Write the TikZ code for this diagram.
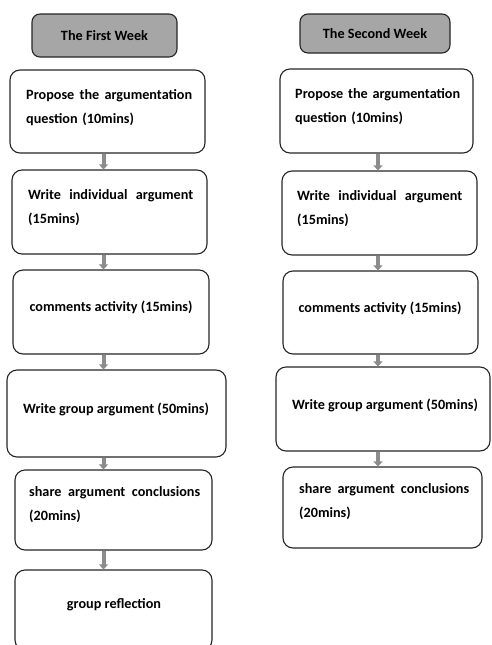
\documentclass[tikz,border=0pt]{standalone}
\usepackage{fontspec}
\setmainfont{Carlito}
\usetikzlibrary{arrows.meta}
\definecolor{hdrfill}{HTML}{A6A6A6}
\definecolor{flowgray}{HTML}{8C8C8C}
% a first line spread over the full width, with equal gaps between its three words
\newcommand{\fullline}[4]{\hbox to #1{#2\hfill #3\hfill #4}}
\begin{document}
\begin{tikzpicture}[x=1pt,y=-1pt,
  every node/.style={font=\fontsize{14.2}{24}\selectfont\bfseries},
  stagebox/.style={draw=black!85, line width=1.1pt, rounded corners=10pt, fill=white, inner sep=0pt},
  weekbox/.style={draw=black!85, line width=1.1pt, rounded corners=8pt, fill=hdrfill, inner sep=0pt},
  boxtext/.style={inner sep=0pt, anchor=west, align=left},
  midtext/.style={inner sep=0pt},
  flow/.style={draw=flowgray, line width=4pt, -{Triangle[width=9pt,length=5pt]}}]
\useasboundingbox (0,0) rectangle (491,645);

% ---- week headers ----
\node[weekbox, minimum width=145pt, minimum height=43pt] (hA) at (104.5,35.5) {};
\node[midtext] (hAt) at (hA.center) {The First Week};
\node[weekbox, minimum width=150pt, minimum height=39pt] (hB) at (375,33.5) {};
\node[midtext] (hBt) at (hB.center) {The Second Week};

% ---- first week boxes ----
\node[stagebox, minimum width=195pt, minimum height=83pt] (a1) at (107.5,111.5) {};
\node[stagebox, minimum width=195pt, minimum height=84pt] (a2) at (109.5,212) {};
\node[stagebox, minimum width=196pt, minimum height=84pt] (a3) at (111,312) {};
\node[stagebox, minimum width=219pt, minimum height=87pt] (a4) at (116.5,413.5) {};
\node[stagebox, minimum width=197pt, minimum height=80pt] (a5) at (113.5,510) {};
\node[stagebox, minimum width=197pt, minimum height=80pt] (a6) at (113.5,610) {};

\node[boxtext, text width=166pt] (a1t) at (26,107.5) {\fullline{166pt}{Propose}{the}{argumentation}\\question (10mins)};
\node[boxtext, text width=165pt] (a2t) at (28,208) {\fullline{165pt}{Write}{individual}{argument}\\(15mins)};
\node[midtext] (a3t) at (111,307) {comments activity (15mins)};
\node[midtext] (a4t) at (116,409) {Write group argument (50mins)};
\node[boxtext, text width=171pt] (a5t) at (29,505) {\fullline{171pt}{share}{argument}{conclusions}\\(20mins)};
\node[midtext] (a6t) at (114,605) {group reflection};

% ---- second week boxes ----
\node[stagebox, minimum width=193pt, minimum height=84pt] (b1) at (376.5,111) {};
\node[stagebox, minimum width=195pt, minimum height=84pt] (b2) at (379.5,213) {};
\node[stagebox, minimum width=195pt, minimum height=83pt] (b3) at (380.5,312.5) {};
\node[stagebox, minimum width=214pt, minimum height=84pt] (b4) at (383,409) {};
\node[stagebox, minimum width=199pt, minimum height=81pt] (b5) at (382.5,507.5) {};

\node[boxtext, text width=165pt] (b1t) at (295,107) {\fullline{165pt}{Propose}{the}{argumentation}\\question (10mins)};
\node[boxtext, text width=165pt] (b2t) at (297,208.5) {\fullline{165pt}{Write}{individual}{argument}\\(15mins)};
\node[midtext] (b3t) at (380,308) {comments activity (15mins)};
\node[midtext] (b4t) at (385,405) {Write group argument (50mins)};
\node[boxtext, text width=170pt] (b5t) at (299,501.5) {\fullline{170pt}{share}{argument}{conclusions}\\(20mins)};

% ---- flow arrows ----
\coordinate (colA) at (103.5,0);
\coordinate (colB) at (378,0);
\draw[flow] (a1.south -| colA) -- (a2.north -| colA);
\draw[flow] (a2.south -| colA) -- (a3.north -| colA);
\draw[flow] (a3.south -| colA) -- (a4.north -| colA);
\draw[flow] (a4.south -| colA) -- (a5.north -| colA);
\draw[flow] (a5.south -| colA) -- (a6.north -| colA);
\draw[flow] (b1.south -| colB) -- (b2.north -| colB);
\draw[flow] (b2.south -| colB) -- (b3.north -| colB);
\draw[flow] (b3.south -| colB) -- (b4.north -| colB);
\draw[flow] (b4.south -| colB) -- (b5.north -| colB);
\end{tikzpicture}
\end{document}
